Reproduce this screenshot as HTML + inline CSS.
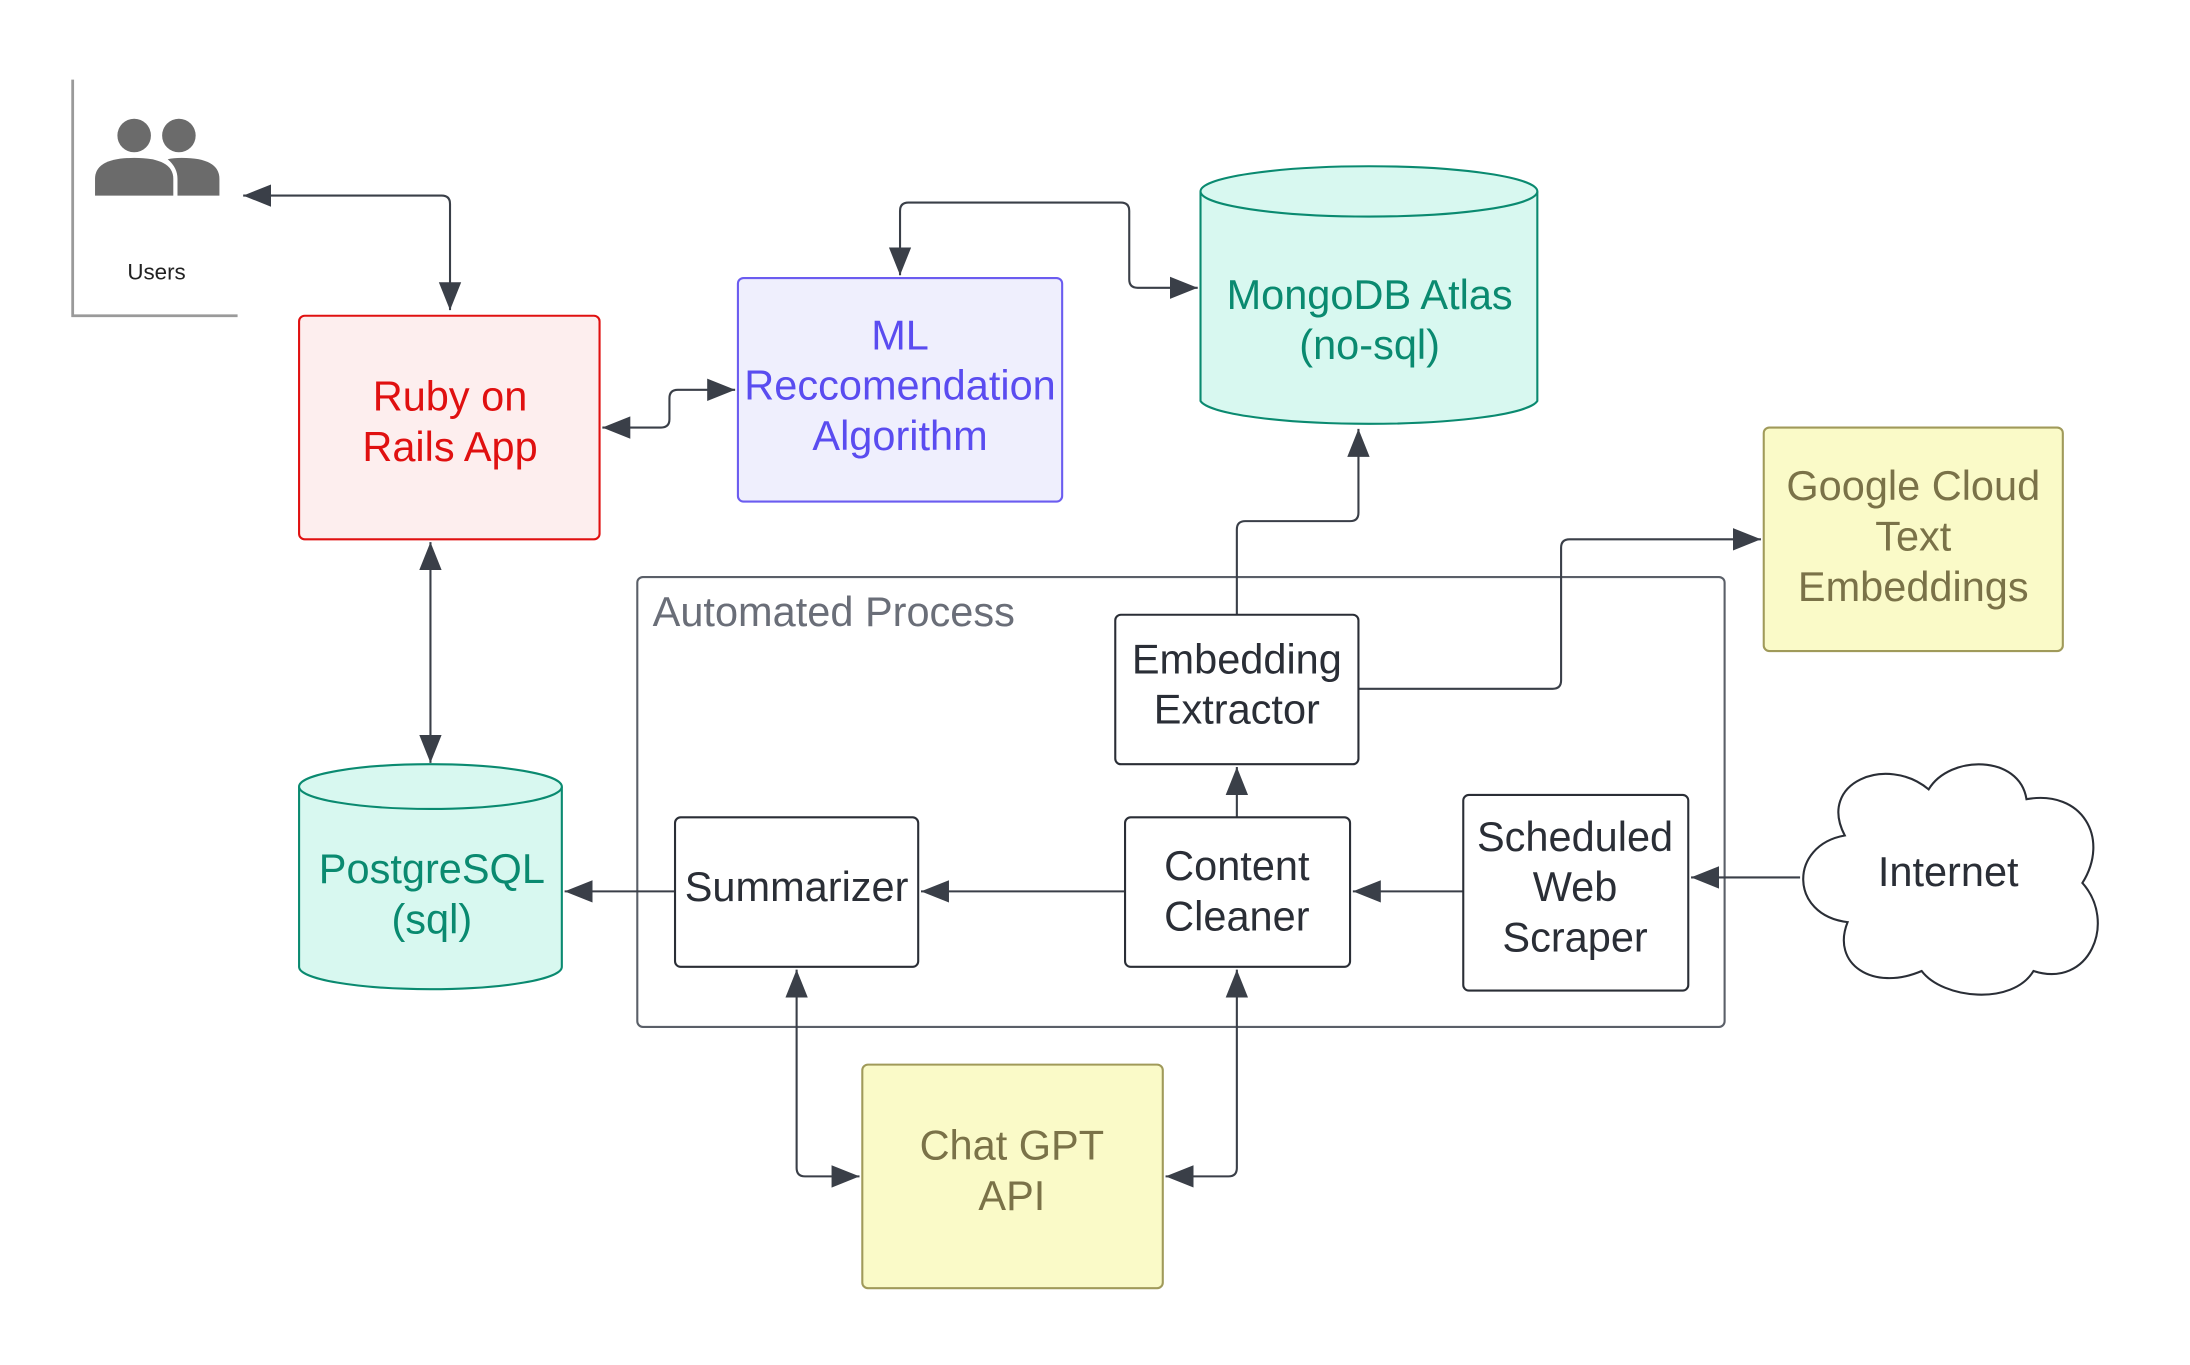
<!DOCTYPE html>
<html><head><meta charset="utf-8"><style>
html,body{margin:0;padding:0;background:#fff;}
svg{display:block;}
text{font-family:"Liberation Sans",Arial,sans-serif;}
</style></head><body>
<svg width="2190" height="1365" viewBox="0 0 1567 977" preserveAspectRatio="none" xmlns="http://www.w3.org/2000/svg">
<defs>
<marker id="b" viewBox="-20 -10 20 20" refX="0" refY="0" markerWidth="20" markerHeight="20" orient="auto-start-reverse" markerUnits="userSpaceOnUse">
<path d="M-20,-8 L0,0 L-20,8 Z" fill="#3a3f48"/>
</marker>
</defs>
<rect width="1567" height="977" fill="#fff"/>

<!-- Users -->
<path d="M52,57 V226 H170" fill="none" stroke="#9a9a9a" stroke-width="2"/>
<circle cx="96" cy="97" r="12" fill="#6b6b6b"/>
<circle cx="128" cy="97" r="12" fill="#6b6b6b"/>
<path d="M68,140 V128 Q68,113 96,113 Q124,113 124,128 V140 Z" fill="#6b6b6b"/>
<path d="M127,140 V128 Q127,120 120,114 Q124,113 130,113 Q157,113 157,128 V140 Z" fill="#6b6b6b"/>
<text x="112" y="200" font-size="16" text-anchor="middle" fill="#222">Users</text>

<!-- Automated Process container -->
<rect x="456" y="413" width="778" height="322" rx="4" fill="none" stroke="#5a5f68" stroke-width="1.5"/>
<text x="467" y="448" font-size="29.7" fill="#6a6e78">Automated Process</text>

<!-- Connectors -->
<g fill="none" stroke="#3a3f48" stroke-width="1.5">
<path d="M174,140 H316 Q322,140 322,146 V222" marker-start="url(#b)" marker-end="url(#b)"/>
<path d="M431,306 H473 Q479,306 479,300 V285 Q479,279 485,279 H526" marker-start="url(#b)" marker-end="url(#b)"/>
<path d="M644,197 V151 Q644,145 650,145 H802 Q808,145 808,151 V200 Q808,206 814,206 H857" marker-start="url(#b)" marker-end="url(#b)"/>
<path d="M308,388 V546" marker-start="url(#b)" marker-end="url(#b)"/>
<path d="M885,440 V379 Q885,373 891,373 H966 Q972,373 972,367 V307" marker-end="url(#b)"/>
<path d="M972,493 H1111 Q1117,493 1117,487 V392 Q1117,386 1123,386 H1260" marker-end="url(#b)"/>
<path d="M885,585 V549" marker-end="url(#b)"/>
<path d="M1047,638 H968" marker-end="url(#b)"/>
<path d="M1288,628 H1210" marker-end="url(#b)"/>
<path d="M805,638 H659" marker-end="url(#b)"/>
<path d="M483,638 H404" marker-end="url(#b)"/>
<path d="M570,694 V836 Q570,842 576,842 H615" marker-start="url(#b)" marker-end="url(#b)"/>
<path d="M885,694 V836 Q885,842 879,842 H834" marker-start="url(#b)" marker-end="url(#b)"/>
</g>

<g font-size="29.7" text-anchor="middle">
<!-- Ruby -->
<rect x="214" y="226" width="215" height="160" rx="4" fill="#fdeeee" stroke="#e01010" stroke-width="1.5"/>
<text x="322" y="294" fill="#e01010">Ruby on</text>
<text x="322" y="330" fill="#e01010">Rails App</text>

<!-- ML -->
<rect x="528" y="199" width="232" height="160" rx="4" fill="#efeffd" stroke="#6b5cf0" stroke-width="1.5"/>
<text x="644" y="250" fill="#5a4cf0">ML</text>
<text x="644" y="286" fill="#5a4cf0">Reccomendation</text>
<text x="644" y="322" fill="#5a4cf0">Algorithm</text>

<!-- Mongo -->
<path d="M859,137 V287 A121,18 0 0 0 1100,287 V137" fill="#d8f8f0" stroke="#0a8a70" stroke-width="1.5"/>
<ellipse cx="979.5" cy="137" rx="120.5" ry="18" fill="#d8f8f0" stroke="#0a8a70" stroke-width="1.5"/>
<text x="980" y="221" fill="#0a8a70">MongoDB Atlas</text>
<text x="980" y="257" fill="#0a8a70">(no-sql)</text>

<!-- Google -->
<rect x="1262" y="306" width="214" height="160" rx="4" fill="#fafac8" stroke="#a09a5a" stroke-width="1.5"/>
<text x="1369" y="358" fill="#7a7248">Google Cloud</text>
<text x="1369" y="394" fill="#7a7248">Text</text>
<text x="1369" y="430" fill="#7a7248">Embeddings</text>

<!-- Postgres -->
<path d="M214,563 V692 A94,16 0 0 0 402,692 V563" fill="#d8f8f0" stroke="#0a8a70" stroke-width="1.5"/>
<ellipse cx="308" cy="563" rx="94" ry="16" fill="#d8f8f0" stroke="#0a8a70" stroke-width="1.5"/>
<text x="309" y="632" fill="#0a8a70">PostgreSQL</text>
<text x="309" y="668" fill="#0a8a70">(sql)</text>

<!-- Process boxes -->
<g fill="#fff" stroke="#2a2e36" stroke-width="1.5">
<rect x="798" y="440" width="174" height="107" rx="4"/>
<rect x="483" y="585" width="174" height="107" rx="4"/>
<rect x="805" y="585" width="161" height="107" rx="4"/>
<rect x="1047" y="569" width="161" height="140" rx="4"/>
</g>
<g fill="#2a2e36">
<text x="885" y="482">Embedding</text>
<text x="885" y="518">Extractor</text>
<text x="570" y="645">Summarizer</text>
<text x="885" y="630">Content</text>
<text x="885" y="666">Cleaner</text>
<text x="1127" y="609">Scheduled</text>
<text x="1127" y="645">Web</text>
<text x="1127" y="681">Scraper</text>
</g>

<!-- Cloud -->
<path d="M1320,598 C1300,560 1350,540 1380,565 C1395,540 1445,540 1450,572 C1490,565 1510,600 1490,632 C1515,660 1495,708 1455,695 C1440,720 1390,715 1375,695 C1340,710 1310,690 1322,660 C1280,655 1280,605 1320,598 Z" fill="#fff" stroke="#2a2e36" stroke-width="1.5"/>
<text x="1394" y="634" fill="#2a2e36">Internet</text>

<!-- Chat GPT -->
<rect x="617" y="762" width="215" height="160" rx="4" fill="#fafac8" stroke="#a09a5a" stroke-width="1.5"/>
<text x="724" y="830" fill="#7a7248">Chat GPT</text>
<text x="724" y="866" fill="#7a7248">API</text>
</g>
</svg>
</body></html>
